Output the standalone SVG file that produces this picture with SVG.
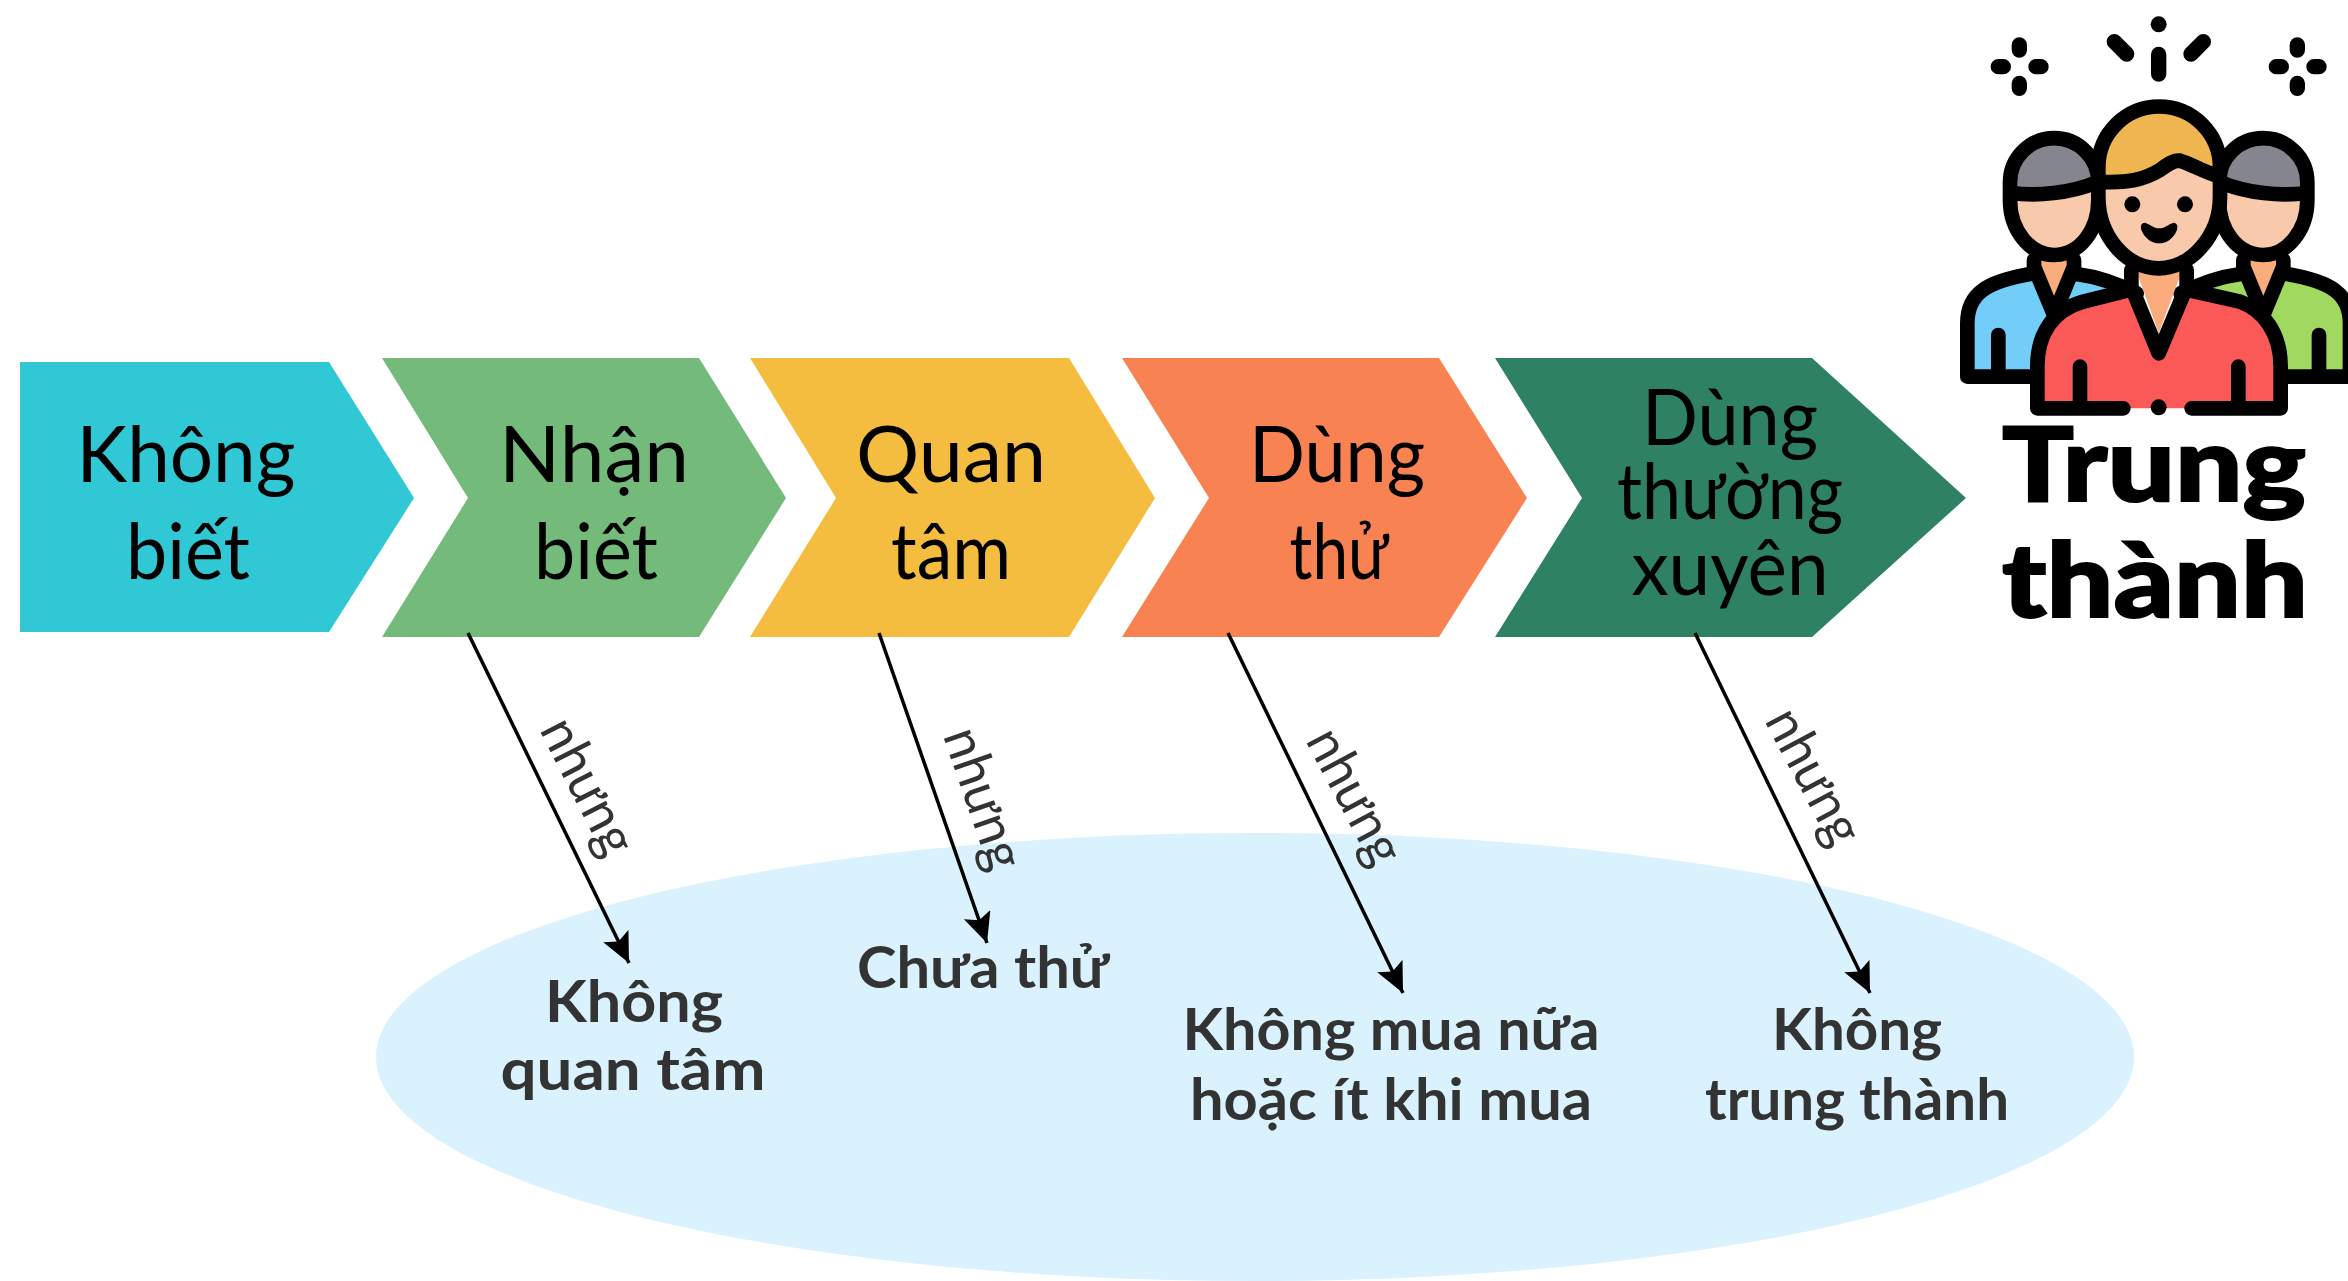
<svg xmlns="http://www.w3.org/2000/svg" xmlns:xlink="http://www.w3.org/1999/xlink" width="2348" height="1281" viewBox="0 0 2348 1281">
<style>
text{font-family:"Lato","Liberation Sans",sans-serif;text-anchor:middle}
.step{font-size:78px;fill:#000;font-weight:400}
.but{font-size:54px;fill:#333;font-weight:400}
.res{font-size:58px;fill:#333;font-weight:700}
.end{font-size:103px;fill:#000;font-weight:900;stroke:#000;stroke-width:2}
.arrow{fill:none;stroke:#000;stroke-width:3.5;marker-end:url(#head)}
.ln{fill:none;stroke:#000;stroke-width:44;stroke-linecap:round;stroke-linejoin:round}
.sp{fill:none;stroke:#000;stroke-width:46;stroke-linecap:round}
</style>
<defs>
<marker id="head" markerUnits="userSpaceOnUse" markerWidth="36" markerHeight="30" refX="30" refY="14" orient="auto"><path d="M0 0L30 14L0 28L6 14Z" fill="#000"/></marker>
<g id="side">
<path d="M112 1130V970C112 880 170 845 300 822L372 900L440 822C500 830 560 850 620 880V1130Z" fill="inherit"/>
<path d="M112 1130V970C112 880 170 845 300 822M440 822C500 830 560 850 620 880M112 1130H320" class="ln"/>
<path d="M205 1005V1120" class="ln"/>
<path d="M325 780H420L372 905Z" fill="#FAAC7C"/>
<path d="M312 780V800L372 945L432 800V780" class="ln"/>
<path d="M240 600V547A132 132 0 0 1 505 547V600C505 690 450 765 372 765C300 765 240 690 240 600Z" fill="#F9C9AB"/>
<path d="M240 578V547A132 132 0 0 1 505 547C420 580 320 590 240 578Z" fill="#85858F"/>
<path d="M240 600V547A132 132 0 0 1 505 547V600C505 690 450 765 372 765C300 765 240 690 240 600ZM240 578C320 590 420 580 505 545" class="ln"/>
</g>
</defs>

<g id="pool"><ellipse cx="1255" cy="1057" rx="879" ry="224" fill="#D9F2FE"/></g>

<g id="node-khong-biet">
<path d="M20 362H329L414 498L329 632H20Z" fill="#2FC8D4"/>
<text class="step" x="186" y="482" textLength="219" lengthAdjust="spacingAndGlyphs">Không</text>
<text class="step" x="188" y="579" textLength="124" lengthAdjust="spacingAndGlyphs">biết</text>
</g>
<g id="node-nhan-biet">
<path d="M382 358H699L786 498L699 637H382L468 498Z" fill="#74BA7A"/>
<text class="step" x="594" y="482" textLength="190" lengthAdjust="spacingAndGlyphs">Nhận</text>
<text class="step" x="596" y="579" textLength="124" lengthAdjust="spacingAndGlyphs">biết</text>
</g>
<g id="node-quan-tam">
<path d="M750 358H1069L1155 498L1069 637H750L836 498Z" fill="#F5BD3F"/>
<text class="step" x="951" y="482" textLength="190" lengthAdjust="spacingAndGlyphs">Quan</text>
<text class="step" x="951" y="579" textLength="120" lengthAdjust="spacingAndGlyphs">tâm</text>
</g>
<g id="node-dung-thu">
<path d="M1122 358H1439L1527 498L1439 637H1122L1209 498Z" fill="#F98252"/>
<text class="step" x="1337" y="482" textLength="176" lengthAdjust="spacingAndGlyphs">Dùng</text>
<text class="step" x="1339" y="579" textLength="99" lengthAdjust="spacingAndGlyphs">thử</text>
</g>
<g id="node-dung-thuong-xuyen">
<path d="M1495 358H1812L1966 498L1812 637H1495L1582 498Z" fill="#2E8163"/>
<text class="step" x="1730" y="445" textLength="176" lengthAdjust="spacingAndGlyphs">Dùng</text>
<text class="step" x="1730" y="519" textLength="226" lengthAdjust="spacingAndGlyphs">thường</text>
<text class="step" x="1730" y="595" textLength="197" lengthAdjust="spacingAndGlyphs">xuyên</text>
</g>

<g id="connectors">
<path class="arrow" d="M468 633L629 963"/>
<path class="arrow" d="M879 633L987 943"/>
<path class="arrow" d="M1228 633L1403 993"/>
<path class="arrow" d="M1695 633L1870 993"/>
</g>

<g id="labels-nhung">
<text class="but" transform="translate(581 790) rotate(63)" y="10" textLength="146" lengthAdjust="spacingAndGlyphs">nhưng</text>
<text class="but" transform="translate(976 801) rotate(71)" y="10" textLength="146" lengthAdjust="spacingAndGlyphs">nhưng</text>
<text class="but" transform="translate(1348 800) rotate(62)" y="10" textLength="146" lengthAdjust="spacingAndGlyphs">nhưng</text>
<text class="but" transform="translate(1807 780) rotate(62)" y="10" textLength="146" lengthAdjust="spacingAndGlyphs">nhưng</text>
</g>

<g id="node-khong-quan-tam">
<text class="res" x="634" y="1022" textLength="178" lengthAdjust="spacingAndGlyphs">Không</text>
<text class="res" x="633" y="1090" textLength="265" lengthAdjust="spacingAndGlyphs">quan tâm</text>
</g>
<g id="node-chua-thu">
<text class="res" x="983" y="988" textLength="252" lengthAdjust="spacingAndGlyphs">Chưa thử</text>
</g>
<g id="node-khong-mua-nua">
<text class="res" x="1391" y="1050" textLength="417" lengthAdjust="spacingAndGlyphs">Không mua nữa</text>
<text class="res" x="1391" y="1120" textLength="402" lengthAdjust="spacingAndGlyphs">hoặc ít khi mua</text>
</g>
<g id="node-khong-trung-thanh">
<text class="res" x="1857" y="1050" textLength="170" lengthAdjust="spacingAndGlyphs">Không</text>
<text class="res" x="1857" y="1120" textLength="304" lengthAdjust="spacingAndGlyphs">trung thành</text>
</g>

<g id="node-trung-thanh">
<g transform="translate(1930 0) scale(.33333)">
<path class="sp" d="M268 135V150M268 250V265M205 200H220M318 200H333M1102 135V150M1102 250V265M1039 200H1054M1152 200H1167M686 163V222M553 125L590 162M820 125L783 162"/>
<circle cx="686" cy="73" r="24"/>
<use xlink:href="#side" href="#side" fill="#72CDF8"/>
<use xlink:href="#side" href="#side" transform="translate(1372 0) scale(-1 1)" fill="#A0D860"/>
<path d="M322 1225V1100C322 1000 370 930 460 905L600 870L686 1060L775 870L930 905C1000 930 1052 1000 1052 1100V1225Z" fill="#FB5858"/>
<path d="M620 815H755L686 1000Z" fill="#FAAC7C"/>
<path class="ln" d="M580 1225H322V1100C322 1000 370 930 460 905L600 870M775 870L930 905C1000 930 1052 1000 1052 1100V1225H785M450 1100V1215M925 1100V1215"/>
<path class="ln" d="M604 810V860L686 1060L770 860V810"/>
<circle cx="686" cy="1222" r="24"/>
<path d="M505 590V502A182.500 182.500 0 0 1 870 502V590C870 710 780 805 686 805C590 805 505 710 505 590Z" fill="#F9C9AB"/>
<path d="M505 545V502A182.500 182.500 0 0 1 870 502V530C820 515 790 495 750 482C730 480 710 495 690 510C640 540 590 550 505 545Z" fill="#EEB550"/>
<path class="ln" d="M505 590V502A182.500 182.500 0 0 1 870 502V590C870 710 780 805 686 805C590 805 505 710 505 590ZM505 545C590 550 640 540 690 510C710 495 730 480 750 482C790 495 820 515 870 530"/>
<circle cx="607" cy="613" r="24"/>
<circle cx="765" cy="613" r="24"/>
<path d="M645 668C660 672 670 685 688 685C705 685 715 672 730 668C742 668 745 680 740 692C730 715 710 730 688 730C665 730 645 715 635 692C630 680 633 668 645 668Z"/>
</g>
<text class="end" x="2154" y="501" textLength="304" lengthAdjust="spacingAndGlyphs">Trung</text>
<text class="end" x="2155" y="617" textLength="306" lengthAdjust="spacingAndGlyphs">thành</text>
</g>
</svg>
